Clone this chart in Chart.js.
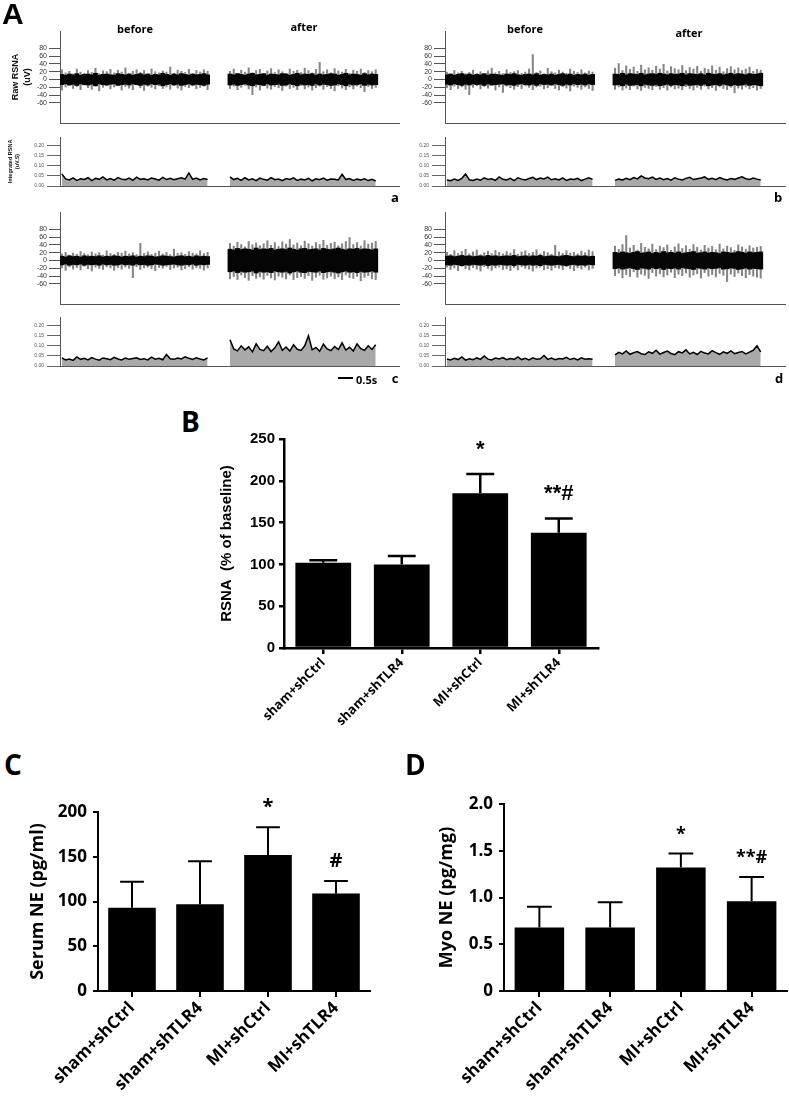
<!DOCTYPE html>
<html>
<head>
<meta charset="utf-8">
<script src="https://cdn.jsdelivr.net/npm/chart.js@4.4.1/dist/chart.umd.min.js"></script>
<style>
  html, body { margin: 0; padding: 0; background: #fff; }
  #fig { position: relative; width: 789px; height: 1099px; overflow: hidden; background: #fff; }
  #fig canvas { position: absolute; }
  .t { position: absolute; font-weight: 700; color: #000; line-height: 1; white-space: nowrap; }
</style>
</head>
<body>
<div id="fig"></div>
<script>
// ---- panel A: raw RSNA traces (uV), 40 samples per segment ----
const rawTicks = [-60, -40, -20, 0, 20, 40, 60, 80];
const intTicks = [0, 0.05, 0.1, 0.15, 0.2];

const aBeforeHi = [26,18,22,15,28,20,17,24,19,30,16,23,21,27,18,25,20,31,17,22,26,19,24,16,28,21,18,23,20,33,17,25,22,19,27,16,24,20,26,22];
const aBeforeLo = [-28,-20,-16,-24,-19,-27,-15,-22,-26,-18,-30,-21,-17,-25,-20,-16,-28,-19,-23,-27,-15,-22,-29,-18,-21,-25,-17,-24,-20,-26,-16,-23,-28,-19,-22,-17,-25,-21,-18,-27];
const aBeforeCore = [14,12,15,13,16,12,14,15,13,17,12,14,15,13,12,16,14,13,15,12,14,16,13,15,12,14,13,17,14,12,15,13,16,14,12,15,13,14,16,13];
const aAfterHi = [22,28,17,25,20,31,18,24,27,16,23,29,19,26,21,17,28,22,25,19,30,24,18,27,45,21,26,18,29,23,20,27,17,25,22,28,19,24,21,26];
const aAfterLo = [-24,-18,-27,-21,-16,-25,-40,-20,-28,-17,-23,-26,-19,-22,-29,-18,-24,-21,-27,-16,-25,-20,-28,-22,-18,-26,-19,-24,-30,-17,-23,-27,-20,-25,-18,-22,-32,-19,-24,-21];
const aAfterCore = [15,13,16,14,12,15,17,13,14,16,12,15,14,13,16,15,12,14,17,13,15,14,16,12,15,13,14,16,15,12,14,17,13,15,14,12,16,13,15,14];

const bBeforeHi = [20,15,24,18,22,16,19,25,17,21,14,23,30,18,22,16,26,19,21,24,17,20,28,65,19,23,16,30,21,18,25,20,17,28,22,19,26,18,23,20];
const bBeforeLo = [-22,-27,-18,-24,-20,-26,-40,-21,-17,-25,-19,-23,-16,-28,-20,-34,-18,-22,-26,-19,-24,-17,-21,-27,-20,-18,-25,-22,-16,-24,-28,-19,-23,-30,-18,-21,-26,-20,-24,-29];
const bBeforeCore = [13,15,12,14,16,13,15,12,14,13,16,12,15,14,13,12,15,14,16,13,12,14,15,13,16,12,14,13,15,12,14,16,13,15,12,14,13,15,12,14];
const bAfterHi = [30,42,24,36,27,33,22,38,26,31,25,35,28,40,23,34,29,26,37,24,32,28,35,22,30,27,36,25,33,21,29,34,26,31,24,28,33,22,27,25];
const bAfterLo = [-26,-20,-28,-23,-27,-18,-25,-29,-21,-24,-27,-19,-26,-22,-28,-20,-25,-23,-27,-19,-24,-28,-21,-26,-18,-25,-22,-29,-20,-24,-27,-21,-35,-23,-26,-20,-25,-22,-28,-24];
const bAfterCore = [15,14,17,13,16,15,14,17,13,15,16,14,17,15,13,16,14,15,17,13,16,15,14,16,13,17,15,14,16,13,15,17,14,16,15,13,16,14,15,17];

const cBeforeHi = [18,22,15,20,17,24,19,16,23,18,21,15,26,19,17,22,20,25,18,21,16,45,19,23,17,20,25,18,22,16,30,19,21,17,24,20,18,26,19,22];
const cBeforeLo = [-20,-26,-17,-23,-19,-25,-16,-22,-28,-18,-21,-24,-17,-20,-26,-19,-23,-18,-21,-45,-17,-24,-20,-18,-22,-27,-19,-21,-16,-24,-20,-18,-25,-22,-17,-23,-19,-21,-26,-20];
const cBeforeCore = [12,10,13,11,12,10,13,11,12,11,13,10,12,11,13,12,10,12,11,13,10,12,11,13,12,10,11,13,12,11,10,12,13,11,12,10,13,11,12,11];
const cAfterHi = [45,38,48,42,36,50,41,46,39,44,52,40,47,37,49,43,55,41,46,39,51,44,38,47,42,53,40,45,48,39,44,50,60,42,47,38,52,43,46,50];
const cAfterLo = [-48,-42,-50,-38,-45,-52,-40,-47,-43,-49,-39,-46,-51,-41,-44,-48,-38,-50,-45,-42,-47,-40,-52,-44,-39,-49,-46,-41,-48,-43,-50,-38,-45,-47,-42,-53,-44,-40,-48,-50];
const cAfterCore = [30,28,32,29,31,30,28,33,29,31,30,32,28,30,31,29,33,30,28,31,32,29,30,31,28,32,30,29,31,33,30,28,31,30,32,29,31,30,28,31];

const dBeforeHi = [22,17,26,19,24,30,18,23,28,16,21,25,19,27,22,18,24,20,29,17,23,26,19,22,28,18,24,21,17,40,23,19,26,20,22,18,25,21,28,24];
const dBeforeLo = [-18,-24,-20,-27,-16,-22,-25,-19,-23,-28,-17,-21,-26,-20,-18,-24,-22,-27,-19,-25,-17,-21,-23,-28,-20,-18,-25,-22,-26,-19,-21,-24,-17,-22,-27,-20,-23,-18,-25,-21];
const dBeforeCore = [12,13,11,12,14,12,13,11,12,13,11,14,12,13,11,12,13,12,14,11,12,13,11,13,12,14,11,12,13,12,11,13,14,12,11,13,12,13,11,12];
const dAfterHi = [38,30,42,65,33,40,28,45,35,31,43,29,38,34,41,27,36,44,32,39,30,42,35,28,40,33,37,29,43,31,38,34,27,41,36,30,39,33,35,37];
const dAfterLo = [-40,-33,-45,-37,-42,-30,-44,-36,-39,-47,-32,-41,-35,-43,-38,-31,-45,-36,-40,-33,-44,-38,-35,-46,-32,-41,-37,-43,-34,-39,-55,-36,-42,-33,-40,-45,-37,-41,-44,-46];
const dAfterCore = [22,20,23,21,19,22,24,20,21,23,19,22,20,24,21,22,20,23,19,21,22,24,20,21,23,20,22,21,19,23,22,20,21,24,22,20,23,21,22,23];

// ---- panel A: integrated RSNA (uV.s) ----
const intABefore = [0.06,0.035,0.03,0.04,0.028,0.036,0.032,0.041,0.027,0.038,0.033,0.045,0.03,0.037,0.029,0.042,0.034,0.031,0.039,0.028,0.044,0.033,0.036,0.03,0.04,0.035,0.029,0.043,0.032,0.038,0.031,0.036,0.041,0.034,0.065,0.033,0.039,0.03,0.037,0.032];
const intAAfter = [0.045,0.032,0.038,0.028,0.041,0.03,0.036,0.027,0.039,0.033,0.029,0.042,0.031,0.035,0.027,0.037,0.032,0.04,0.028,0.034,0.03,0.038,0.026,0.036,0.031,0.039,0.029,0.035,0.033,0.03,0.058,0.032,0.037,0.028,0.034,0.03,0.036,0.027,0.033,0.025];
const intBBefore = [0.03,0.026,0.034,0.028,0.038,0.06,0.031,0.027,0.035,0.029,0.04,0.032,0.036,0.028,0.045,0.033,0.03,0.038,0.027,0.041,0.034,0.03,0.037,0.043,0.032,0.039,0.035,0.044,0.031,0.036,0.03,0.04,0.028,0.035,0.032,0.038,0.027,0.034,0.041,0.033];
const intBAfter = [0.028,0.034,0.03,0.038,0.031,0.042,0.035,0.05,0.04,0.036,0.044,0.033,0.039,0.031,0.037,0.029,0.041,0.034,0.03,0.038,0.043,0.032,0.036,0.04,0.045,0.033,0.038,0.031,0.042,0.035,0.03,0.037,0.033,0.04,0.046,0.036,0.032,0.039,0.034,0.03];
const intCBefore = [0.04,0.03,0.035,0.028,0.045,0.033,0.038,0.03,0.042,0.034,0.029,0.04,0.036,0.031,0.043,0.035,0.03,0.039,0.033,0.037,0.041,0.032,0.036,0.03,0.044,0.034,0.038,0.031,0.057,0.036,0.033,0.04,0.035,0.046,0.038,0.032,0.041,0.035,0.03,0.04];
const intCAfter = [0.13,0.085,0.075,0.1,0.08,0.095,0.07,0.11,0.082,0.076,0.098,0.072,0.09,0.12,0.078,0.094,0.074,0.105,0.083,0.077,0.1,0.15,0.08,0.092,0.073,0.108,0.085,0.076,0.097,0.081,0.115,0.079,0.093,0.074,0.11,0.086,0.078,0.1,0.082,0.105];
const intDBefore = [0.035,0.03,0.038,0.032,0.045,0.029,0.036,0.031,0.04,0.033,0.05,0.034,0.03,0.039,0.035,0.042,0.031,0.037,0.033,0.045,0.032,0.038,0.03,0.041,0.034,0.036,0.052,0.033,0.039,0.031,0.037,0.035,0.043,0.032,0.038,0.03,0.041,0.034,0.036,0.033];
const intDAfter = [0.055,0.068,0.06,0.075,0.058,0.066,0.072,0.061,0.057,0.07,0.063,0.078,0.059,0.067,0.074,0.062,0.056,0.071,0.065,0.08,0.06,0.068,0.057,0.073,0.064,0.06,0.076,0.066,0.058,0.07,0.063,0.075,0.061,0.067,0.072,0.06,0.069,0.078,0.1,0.07];

// ---- panels B, C, D ----
const groups = ['sham+shCtrl', 'sham+shTLR4', 'MI+shCtrl', 'MI+shTLR4'];
const rsnaMean = [102, 100, 185, 138];
const rsnaErr = [3, 10, 23, 17];
const rsnaMarks = ['', '', '*', '**#'];
const rsnaTicks = [0, 50, 100, 150, 200, 250];

const serumMean = [93, 97, 152, 109];
const serumErr = [29, 48, 31, 14];
const serumMarks = ['', '', '*', '#'];
const serumTicks = [0, 50, 100, 150, 200];

const myoMean = [0.68, 0.68, 1.32, 0.96];
const myoErr = [0.22, 0.27, 0.15, 0.26];
const myoMarks = ['', '', '*', '**#'];
const myoTicks = [0, 0.5, 1.0, 1.5, 2.0];
const myoTickLabels = ['0', '0.5', '1.0', '1.5', '2.0'];

// ------------------------------------------------------------
const fig = document.getElementById('fig');

function makeCanvas(left, top, w, h) {
  const c = document.createElement('canvas');
  c.width = w; c.height = h;
  c.style.left = left + 'px'; c.style.top = top + 'px';
  c.style.width = w + 'px'; c.style.height = h + 'px';
  fig.appendChild(c);
  return c;
}

function text(str, x, y, size, family, align) {
  const d = document.createElement('div');
  d.className = 't';
  d.textContent = str;
  d.style.fontSize = size + 'px';
  d.style.fontFamily = family || '"Open Sans"';
  d.style.left = x + 'px';
  d.style.top = y + 'px';
  d.style.transform = align === 'left' ? 'translate(0,-50%)' : 'translate(-50%,-50%)';
  fig.appendChild(d);
}

// before (40) + gap (5) + after (40) + tail (6) categories
const GAP = 5, TAIL = 6;
function joinSeg(before, after) {
  return before.concat(Array(GAP).fill(null), after, Array(TAIL).fill(null));
}
const traceLabels = joinSeg(aBeforeHi, aAfterHi).map((_, i) => i + 1);

function rawChart(pos, yW, padR, seg, withTitle) {
  const pair = (lo, hi) => lo.map((v, i) => [v, hi[i]]);
  const band = c => c.map(v => [-v, v]);
  const core = joinSeg(band(seg[2]), band(seg[5]));
  const spikes = joinSeg(pair(seg[1], seg[0]), pair(seg[4], seg[3]));
  new Chart(makeCanvas(...pos), {
    type: 'bar',
    data: {
      labels: traceLabels,
      datasets: [
        { data: core, backgroundColor: '#050505', grouped: false, barPercentage: 1.3, categoryPercentage: 1 },
        { data: spikes, backgroundColor: '#858585', grouped: false, barPercentage: 0.55, categoryPercentage: 1 }
      ]
    },
    options: {
      responsive: false, animation: false, devicePixelRatio: 1,
      layout: { padding: { top: 11, bottom: 7, left: 0, right: padR } },
      plugins: { legend: { display: false }, tooltip: { enabled: false } },
      scales: {
        x: {
          offset: true, grid: { display: false }, ticks: { display: false },
          border: { display: true, color: '#555', width: 1 },
          afterFit: s => { s.height = 0; }
        },
        y: {
          min: -112, max: 125,
          afterBuildTicks: s => { s.ticks = rawTicks.map(v => ({ value: v })); },
          afterFit: s => { s.width = yW; },
          grid: { drawOnChartArea: false, tickLength: 11, color: '#555', lineWidth: 1 },
          border: { display: true, color: '#555', width: 1 },
          ticks: { font: { size: 7, family: 'Liberation Sans' }, color: '#333', padding: 2 },
          title: {
            display: withTitle, text: ['Raw RSNA', '(uV)'], color: '#111',
            font: { size: 9, weight: 'bold', family: 'Liberation Sans', lineHeight: 1.4 },
            padding: { top: 9, bottom: 0 }
          }
        }
      }
    }
  });
}

function intChart(pos, yW, padR, before, after, withTitle) {
  new Chart(makeCanvas(...pos), {
    type: 'line',
    data: {
      labels: traceLabels,
      datasets: [{
        data: joinSeg(before, after), borderColor: '#000', borderWidth: 1.5,
        backgroundColor: '#a9a9a9', fill: 'origin', pointRadius: 0, tension: 0, spanGaps: false
      }]
    },
    options: {
      responsive: false, animation: false, devicePixelRatio: 1,
      layout: { padding: { top: 9, bottom: 4, left: 0, right: padR } },
      plugins: { legend: { display: false }, tooltip: { enabled: false } },
      scales: {
        x: {
          offset: true, grid: { display: false }, ticks: { display: false },
          border: { display: true, color: '#555', width: 1 },
          afterFit: s => { s.height = 0; }
        },
        y: {
          min: 0, max: 0.243,
          afterBuildTicks: s => { s.ticks = intTicks.map(v => ({ value: v })); },
          afterFit: s => { s.width = yW; },
          grid: { drawOnChartArea: false, tickLength: 13, color: '#666', lineWidth: 1 },
          border: { display: true, color: '#555', width: 1 },
          ticks: { font: { size: 5, family: 'Liberation Sans' }, color: '#555', padding: 3, callback: v => v.toFixed(2) },
          title: {
            display: withTitle, text: ['Integrated RSNA', '(uV.S)'], color: '#111',
            font: { size: 5.5, weight: 'bold', family: 'Liberation Sans', lineHeight: 1.45 },
            padding: { top: 6, bottom: 0 }
          }
        }
      }
    }
  });
}

function errorPlugin(err, marks, lineW, capRatio, font, gap) {
  return {
    id: 'errorBars',
    afterDatasetsDraw(chart) {
      const ctx = chart.ctx;
      const ys = chart.scales.y;
      const vals = chart.data.datasets[0].data;
      ctx.save();
      ctx.strokeStyle = '#000'; ctx.fillStyle = '#000'; ctx.lineWidth = lineW;
      chart.getDatasetMeta(0).data.forEach((bar, i) => {
        const p = bar.getProps(['x', 'y', 'width'], true);
        const top = ys.getPixelForValue(vals[i] + err[i]);
        const half = p.width * capRatio / 2;
        ctx.beginPath();
        ctx.moveTo(p.x, p.y); ctx.lineTo(p.x, top);
        ctx.moveTo(p.x - half, top); ctx.lineTo(p.x + half, top);
        ctx.stroke();
        if (marks[i]) {
          ctx.font = font; ctx.textAlign = 'center'; ctx.textBaseline = 'alphabetic';
          ctx.fillText(marks[i], p.x, top - gap);
        }
      });
      ctx.restore();
    }
  };
}

function barChart(cfg) {
  new Chart(makeCanvas(...cfg.pos), {
    type: 'bar',
    data: {
      labels: groups,
      datasets: [{ data: cfg.mean, backgroundColor: '#000', borderWidth: 0, barPercentage: cfg.barPct, categoryPercentage: 1 }]
    },
    options: {
      responsive: false, animation: false, devicePixelRatio: 1,
      layout: { padding: { top: cfg.padT, right: cfg.padR, left: 0, bottom: 0 } },
      plugins: { legend: { display: false }, tooltip: { enabled: false } },
      scales: {
        x: {
          grid: { offset: false, drawOnChartArea: false, tickLength: 6, lineWidth: cfg.axisW, color: '#000' },
          border: { color: '#000', width: cfg.axisW },
          ticks: { minRotation: 45, maxRotation: 45, font: cfg.xFont, color: '#000', padding: 1 },
          afterFit: s => { s.height = cfg.xH; }
        },
        y: {
          min: cfg.ticks[0], max: cfg.ticks[cfg.ticks.length - 1],
          afterBuildTicks: s => { s.ticks = cfg.ticks.map(v => ({ value: v })); },
          afterFit: s => { s.width = cfg.yW; },
          grid: { drawOnChartArea: false, tickLength: 5, lineWidth: cfg.axisW, color: '#000' },
          border: { color: '#000', width: cfg.axisW },
          ticks: { font: cfg.yFont, color: '#000', padding: cfg.tickPad, callback: (v, i) => cfg.tickLabels[i] },
          title: { display: true, text: cfg.title, color: '#000', font: cfg.titleFont, padding: { top: cfg.titlePad, bottom: 0 } }
        }
      }
    },
    plugins: [errorPlugin(cfg.err, cfg.marks, cfg.axisW, 0.5, cfg.markFont, cfg.gap)]
  });
}

// ---- panel A ----
rawChart([0, 20, 400, 110], 60, 0, [aBeforeHi, aBeforeLo, aBeforeCore, aAfterHi, aAfterLo, aAfterCore], true);
rawChart([390, 20, 399, 110], 55, 4, [bBeforeHi, bBeforeLo, bBeforeCore, bAfterHi, bAfterLo, bAfterCore], false);
rawChart([0, 201, 400, 110], 60, 0, [cBeforeHi, cBeforeLo, cBeforeCore, cAfterHi, cAfterLo, cAfterCore], false);
rawChart([390, 201, 399, 110], 55, 4, [dBeforeHi, dBeforeLo, dBeforeCore, dAfterHi, dAfterLo, dAfterCore], false);
intChart([0, 128, 400, 64], 60, 0, intABefore, intAAfter, true);
intChart([390, 128, 399, 64], 55, 4, intBBefore, intBAfter, false);
intChart([0, 308, 400, 64], 60, 0, intCBefore, intCAfter, false);
intChart([390, 308, 399, 64], 55, 4, intDBefore, intDAfter, false);

text('A', 2, 14, 30, '"Liberation Sans"', 'left');
text('before', 135, 28, 11);
text('after', 304, 26, 11);
text('before', 525, 28, 11);
text('after', 689, 32, 11);
text('a', 395, 197, 13);
text('b', 778, 197, 13);
text('c', 395, 378, 13);
text('d', 779, 378, 13);
text('0.5s', 356, 379, 11, '"Open Sans"', 'left');
const bar = document.createElement('div');
bar.style.cssText = 'position:absolute;left:338px;top:377px;width:15px;height:2px;background:#000;';
fig.appendChild(bar);

// ---- panel B ----
text('B', 181, 421, 28, '"Open Sans"', 'left');
barChart({
  pos: [200, 420, 410, 330], padT: 19, padR: 12, yW: 84, xH: 102,
  mean: rsnaMean, err: rsnaErr, marks: rsnaMarks, ticks: rsnaTicks, tickLabels: rsnaTicks.map(String),
  barPct: 0.71, axisW: 2.5, tickPad: 4, titlePad: 18,
  title: 'RSNA  (% of baseline)',
  titleFont: { size: 15, weight: 'bold', family: 'Liberation Sans' },
  yFont: { size: 15, weight: 'bold', family: 'Liberation Sans' },
  xFont: { size: 13, weight: 'bold', family: 'Open Sans' },
  markFont: 'bold 22px "Liberation Sans"', gap: 18
});

// ---- panel C ----
text('C', 4, 764, 28, '"Open Sans"', 'left');
barChart({
  pos: [0, 790, 380, 309], padT: 22, padR: 10, yW: 98, xH: 108,
  mean: serumMean, err: serumErr, marks: serumMarks, ticks: serumTicks, tickLabels: serumTicks.map(String),
  barPct: 0.7, axisW: 2, tickPad: 6, titlePad: 27,
  title: 'Serum NE (pg/ml)',
  titleFont: { size: 18, weight: 'bold', family: 'Open Sans' },
  yFont: { size: 17, weight: 'bold', family: 'Open Sans' },
  xFont: { size: 17, weight: 'bold', family: 'Open Sans' },
  markFont: 'bold 20px "Open Sans"', gap: 14
});

// ---- panel D ----
text('D', 405, 764, 28, '"Open Sans"', 'left');
barChart({
  pos: [400, 785, 389, 314], padT: 19, padR: 2, yW: 104, xH: 108,
  mean: myoMean, err: myoErr, marks: myoMarks, ticks: myoTicks, tickLabels: myoTickLabels,
  barPct: 0.7, axisW: 2, tickPad: 6, titlePad: 36,
  title: 'Myo NE (pg/mg)',
  titleFont: { size: 18, weight: 'bold', family: 'Open Sans' },
  yFont: { size: 17, weight: 'bold', family: 'Open Sans' },
  xFont: { size: 17, weight: 'bold', family: 'Open Sans' },
  markFont: 'bold 18px "Open Sans"', gap: 14
});
</script>
</body>
</html>
